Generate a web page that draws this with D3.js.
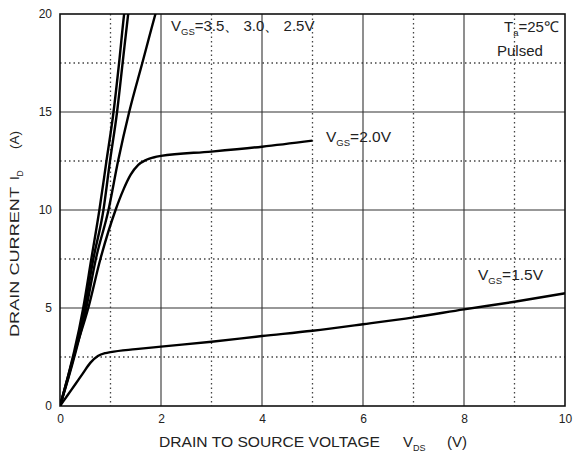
<!DOCTYPE html>
<html><head><meta charset="utf-8">
<script src="https://cdn.jsdelivr.net/npm/d3@7"></script>
<style>
html,body{margin:0;padding:0;background:#fff;}
svg text{font-family:"Liberation Sans",Arial,sans-serif;fill:#222;}
</style></head>
<body><svg id="c" width="573" height="458"></svg>
<script>
// ---- data ----
const xTicks = [0, 2, 4, 6, 8, 10];
const yTicks = [0, 5, 10, 15, 20];
const xMinor = [1, 3, 5, 7, 9];
const yMinor = [2.5, 7.5, 12.5, 17.5];

const vgs35_vds = [0, 0.46, 0.62, 0.78, 0.92, 1.06, 1.17, 1.27, 1.32];
const vgs35_id  = [0, 5, 7.5, 10, 12.5, 15, 17.5, 20, 21];
const vgs30_vds = [0, 0.49, 0.66, 0.86, 0.99, 1.13, 1.24, 1.35, 1.4];
const vgs30_id  = [0, 5, 7.5, 10, 12.5, 15, 17.5, 20, 21];
const vgs25_vds = [0, 0.52, 0.71, 0.96, 1.15, 1.37, 1.63, 1.89, 2.0];
const vgs25_id  = [0, 5, 7.5, 10, 12.5, 15, 17.5, 20, 21];
const vgs20_vds = [0, 0.3, 0.56, 0.8, 1.1, 1.25, 1.4, 1.55, 1.7, 1.85, 2, 3, 4, 5];
const vgs20_id  = [0, 2.8, 5, 7.5, 10, 11.0, 11.8, 12.3, 12.55, 12.68, 12.76, 12.98, 13.23, 13.54];
const vgs15_vds = [0, 0.15, 0.3, 0.45, 0.6, 0.75, 0.9, 1.0, 1.5, 2, 3, 4, 5, 6, 7, 8, 9, 10];
const vgs15_id  = [0, 0.55, 1.1, 1.65, 2.2, 2.55, 2.7, 2.75, 2.9, 3.03, 3.28, 3.57, 3.84, 4.17, 4.52, 4.93, 5.32, 5.75];

// ---- layout ----
const svg = d3.select("#c");
const L = 60, R = 565, T = 14, B = 406;
const x = d3.scaleLinear().domain([0, 10]).range([L, R]);
const y = d3.scaleLinear().domain([0, 20]).range([B, T]);

// grid
const g = svg.append("g");
g.selectAll(".vmin").data(xMinor).enter().append("line")
  .attr("x1", d => x(d)).attr("x2", d => x(d)).attr("y1", T).attr("y2", B)
  .attr("stroke", "#444").attr("stroke-width", 1.3).attr("stroke-dasharray", "1.5,3");
g.selectAll(".hmin").data(yMinor).enter().append("line")
  .attr("y1", d => y(d)).attr("y2", d => y(d)).attr("x1", L).attr("x2", R)
  .attr("stroke", "#444").attr("stroke-width", 1.3).attr("stroke-dasharray", "1.5,3");
g.selectAll(".vmaj").data(xTicks.slice(1, -1)).enter().append("line")
  .attr("x1", d => x(d)).attr("x2", d => x(d)).attr("y1", T).attr("y2", B)
  .attr("stroke", "#333").attr("stroke-width", 1.1);
g.selectAll(".hmaj").data(yTicks.slice(1, -1)).enter().append("line")
  .attr("y1", d => y(d)).attr("y2", d => y(d)).attr("x1", L).attr("x2", R)
  .attr("stroke", "#333").attr("stroke-width", 1.1);
svg.append("rect").attr("x", L).attr("y", T).attr("width", R - L).attr("height", B - T)
  .attr("fill", "none").attr("stroke", "#111").attr("stroke-width", 1.6);

// axes (tick labels only)
const xAxis = svg.append("g").attr("transform", `translate(0,${B})`)
  .call(d3.axisBottom(x).tickValues(xTicks).tickSize(0).tickPadding(8).tickFormat(d3.format("d")));
const yAxis = svg.append("g").attr("transform", `translate(${L},0)`)
  .call(d3.axisLeft(y).tickValues(yTicks).tickSize(0).tickPadding(8).tickFormat(d3.format("d")));
[xAxis, yAxis].forEach(a => {
  a.select(".domain").remove();
  a.selectAll("text").attr("font-size", 12).attr("fill", "#333")
    .style("font-family", "'Liberation Sans',Arial,sans-serif");
});

// curves
svg.append("clipPath").attr("id", "clip").append("rect")
  .attr("x", L).attr("y", T).attr("width", R - L).attr("height", B - T);
const line = d3.line().x(d => x(d[0])).y(d => y(d[1])).curve(d3.curveMonotoneX);
const series = [
  [vgs35_vds, vgs35_id], [vgs30_vds, vgs30_id], [vgs25_vds, vgs25_id],
  [vgs20_vds, vgs20_id], [vgs15_vds, vgs15_id]
];
svg.append("g").attr("clip-path", "url(#clip)").selectAll("path").data(series).enter()
  .append("path").attr("d", s => line(d3.zip(s[0], s[1])))
  .attr("fill", "none").attr("stroke", "#000").attr("stroke-width", 2.4)
  .attr("stroke-linejoin", "round");

// labels
function vlabel(px, py, main, sub, rest, fs) {
  const t = svg.append("text").attr("x", px).attr("y", py).attr("font-size", fs);
  t.append("tspan").text(main);
  t.append("tspan").attr("font-size", 9.5).attr("dy", 4).text(sub);
  t.append("tspan").attr("dy", -4).text(rest);
  return t;
}
vlabel(171, 31, "V", "GS", "=3.5、 3.0、 2.5V", 15);
vlabel(326, 142, "V", "GS", "=2.0V", 15.5);
vlabel(478, 280, "V", "GS", "=1.5V", 15.5);
vlabel(504, 32, "T", "a", "=25℃", 15);
svg.append("text").attr("x", 497).attr("y", 56).attr("font-size", 15).text("Pulsed");

// x title
svg.append("text").attr("x", 159).attr("y", 447).attr("font-size", 15)
  .attr("textLength", 221).attr("lengthAdjust", "spacingAndGlyphs").text("DRAIN TO SOURCE VOLTAGE");
const xs = svg.append("text").attr("x", 403).attr("y", 447).attr("font-size", 15);
xs.append("tspan").text("V");
xs.append("tspan").attr("font-size", 9).attr("dy", 4).text("DS");
svg.append("text").attr("x", 447).attr("y", 447).attr("font-size", 15).text("(V)");

// y title
svg.append("text").attr("transform", "translate(18.5,337) rotate(-90)").attr("font-size", 12.5)
  .attr("textLength", 150).attr("lengthAdjust", "spacingAndGlyphs").text("DRAIN CURRENT");
const ys = svg.append("text").attr("transform", "translate(18.5,180) rotate(-90)").attr("font-size", 13);
ys.append("tspan").text("I");
ys.append("tspan").attr("font-size", 8.5).attr("dy", 4).text("D");
svg.append("text").attr("transform", "translate(18.5,149) rotate(-90)").attr("font-size", 13.5).text("(A)");
</script></body></html>
